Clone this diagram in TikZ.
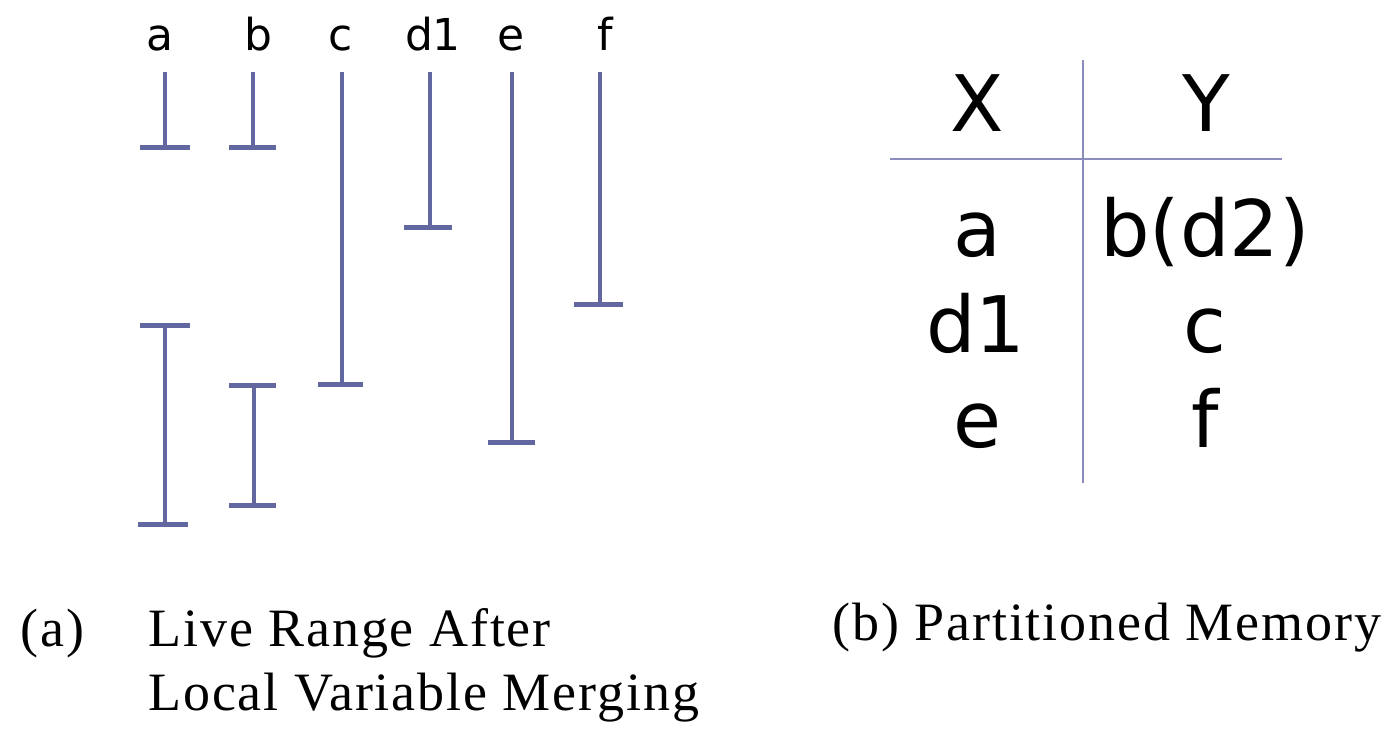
\documentclass[tikz,border=0pt]{standalone}
\usepackage{fontspec}
\setmainfont{Liberation Serif}
\newfontfamily\labfont{DejaVu Sans}
\usetikzlibrary{positioning}
\definecolor{rangeblue}{RGB}{98,103,160}
\definecolor{gridblue}{RGB}{138,141,188}
\tikzset{
  liverange/.style={draw=rangeblue,line width=2pt},
  rangecap/.style={draw=rangeblue,line width=2.5pt},
  var/.style={font=\labfont\fontsize{22}{26}\selectfont,anchor=base,inner sep=0pt},
  cell/.style={font=\labfont\fontsize{39}{44}\selectfont,anchor=base,inner sep=0pt},
  caption/.style={font=\fontsize{27}{32}\selectfont\addfontfeatures{LetterSpace=3.5},anchor=base west,inner sep=0pt},
  sep/.style={draw=gridblue,line width=1pt}
}
\begin{document}
\begin{tikzpicture}[x=0.5pt,y=-0.5pt]
    \useasboundingbox (0,0) rectangle (1381,732);
    % variable names
    \node[var] (la) at (160,51) {a};
    \node[var] (lb) at (258,51) {b};
    \node[var] (lc) at (341,51) {c};
    \node[var] (ld) at (433,51) {d1};
    \node[var] (le) at (511,51) {e};
    \node[var] (lf) at (605,51) {f};
    %% live ranges
    \draw[liverange] (165,72) -- (165,148);
    \draw[rangecap] (140,148) -- (190,148);
    \draw[liverange] (253,72) -- (253,148);
    \draw[rangecap] (229,148) -- (276,148);
    \draw[liverange] (342,72) -- (342,385);
    \draw[rangecap] (318,385) -- (363,385);
    \draw[liverange] (430,72) -- (430,228);
    \draw[rangecap] (404,228) -- (452,228);
    \draw[liverange] (512,72) -- (512,443);
    \draw[rangecap] (488,443) -- (535,443);
    \draw[liverange] (600,72) -- (600,305);
    \draw[rangecap] (574,305) -- (623,305);
    %%
    \draw[rangecap] (140,326) -- (190,326);
    \draw[liverange] (165,326) -- (165,524);
    \draw[rangecap] (138,524) -- (188,524);
    \draw[rangecap] (229,386) -- (276,386);
    \draw[liverange] (254,386) -- (254,505);
    \draw[rangecap] (229,505) -- (276,505);
    %% partition table
    \draw[sep] (1083,60) -- (1083,483);
    \draw[sep] (890,159) -- (1282,159);
    \node[cell] (hx) at (977,132) {X};
    \node[cell] (hy) at (1206,132) {Y};
    \node[cell] (x1) at (977,257) {a};
    \node[cell] (y1) at (1205,257) {b(d2)};
    \node[cell] (x2) at (976,353) {d1};
    \node[cell] (y2) at (1205,353) {c};
    \node[cell] (x3) at (977,447) {e};
    \node[cell] (y3) at (1205,447) {f};
    %% captions
    \node[caption] (capa) at (20,646) {(a)};
    \node[caption] (capa1) at (148,646) {Live Range After};
    \node[caption] (capa2) at (148,710) {Local Variable Merging};
    \node[caption] (capb) at (832,640) {(b) Partitioned Memory};
\end{tikzpicture}
\end{document}
